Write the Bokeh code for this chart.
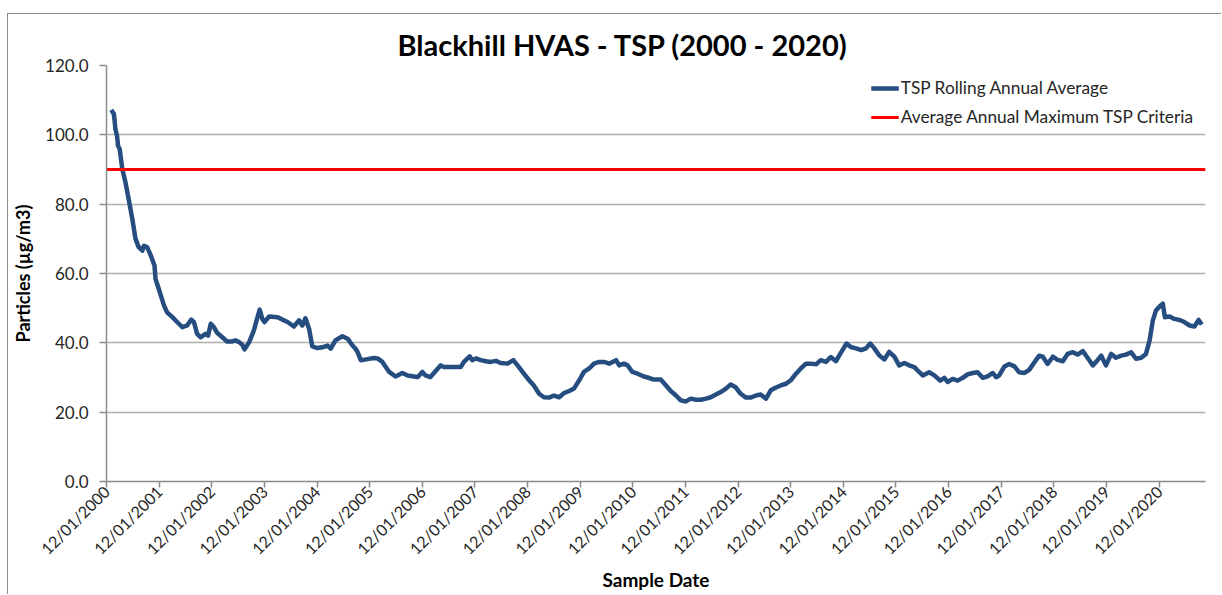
from datetime import datetime
from bokeh.plotting import figure
from bokeh.models import Range1d, FixedTicker, NumeralTickFormatter, DatetimeTickFormatter, Title
from bokeh.embed import file_html
from bokeh.resources import INLINE

# ---------------- data ----------------
sample_year = [
    2000.12, 2000.17, 2000.20, 2000.23, 2000.25, 2000.28, 2000.33, 2000.39, 2000.45, 2000.52,
    2000.58, 2000.64, 2000.71, 2000.74, 2000.80, 2000.87, 2000.94, 2000.96, 2001.02, 2001.12,
    2001.18, 2001.28, 2001.37, 2001.47, 2001.56, 2001.64, 2001.69, 2001.75, 2001.82, 2001.91,
    2001.96, 2002.01, 2002.07, 2002.13, 2002.23, 2002.32, 2002.42, 2002.48, 2002.55, 2002.61,
    2002.65, 2002.74, 2002.83, 2002.89, 2002.94, 2002.99, 2003.03, 2003.12, 2003.28, 2003.37,
    2003.47, 2003.59, 2003.69, 2003.75, 2003.81, 2003.88, 2003.94, 2004.04, 2004.13, 2004.23,
    2004.29, 2004.38, 2004.51, 2004.61, 2004.70, 2004.76, 2004.80, 2004.86, 2004.99, 2005.11,
    2005.18, 2005.27, 2005.40, 2005.52, 2005.65, 2005.75, 2005.87, 2005.94, 2006.03, 2006.09,
    2006.18, 2006.25, 2006.38, 2006.44, 2006.54, 2006.67, 2006.76, 2006.82, 2006.93, 2006.98,
    2007.05, 2007.14, 2007.24, 2007.33, 2007.43, 2007.52, 2007.65, 2007.76, 2007.84, 2007.96,
    2008.06, 2008.15, 2008.25, 2008.34, 2008.44, 2008.53, 2008.63, 2008.72, 2008.82, 2008.91,
    2009.01, 2009.10, 2009.20, 2009.29, 2009.39, 2009.48, 2009.58, 2009.71, 2009.77, 2009.86,
    2009.93, 2010.02, 2010.12, 2010.24, 2010.31, 2010.43, 2010.56, 2010.66, 2010.75, 2010.85,
    2010.94, 2011.04, 2011.13, 2011.23, 2011.32, 2011.42, 2011.51, 2011.61, 2011.70, 2011.80,
    2011.89, 2011.99, 2012.08, 2012.18, 2012.27, 2012.37, 2012.46, 2012.56, 2012.65, 2012.75,
    2012.84, 2012.94, 2013.03, 2013.13, 2013.22, 2013.32, 2013.41, 2013.51, 2013.60, 2013.70,
    2013.79, 2013.89, 2013.98, 2014.09, 2014.17, 2014.27, 2014.37, 2014.46, 2014.54, 2014.62,
    2014.71, 2014.81, 2014.90, 2015.00, 2015.09, 2015.19, 2015.28, 2015.38, 2015.47, 2015.54,
    2015.66, 2015.76, 2015.87, 2015.95, 2016.01, 2016.11, 2016.20, 2016.30, 2016.39, 2016.49,
    2016.58, 2016.68, 2016.77, 2016.87, 2016.93, 2016.99, 2017.09, 2017.18, 2017.28, 2017.37,
    2017.47, 2017.56, 2017.66, 2017.75, 2017.82, 2017.91, 2018.01, 2018.10, 2018.20, 2018.29,
    2018.39, 2018.48, 2018.58, 2018.67, 2018.77, 2018.86, 2018.93, 2019.02, 2019.12, 2019.21,
    2019.31, 2019.40, 2019.50, 2019.59, 2019.69, 2019.78, 2019.85, 2019.91, 2019.97, 2020.04,
    2020.10, 2020.14, 2020.23, 2020.32, 2020.42, 2020.51, 2020.61, 2020.70, 2020.78, 2020.84,
]
tsp_rolling_avg = [
    107.2, 106.0, 101.6, 99.7, 96.8, 95.9, 90.1, 86.3, 81.5, 75.7,
    70.0, 67.6, 66.6, 68.0, 67.6, 65.2, 62.3, 58.4, 55.6, 50.8,
    48.8, 47.4, 46.0, 44.5, 45.0, 46.7, 46.0, 42.6, 41.6, 42.6,
    42.1, 45.5, 44.5, 42.9, 41.6, 40.4, 40.4, 40.7, 40.2, 39.4,
    38.1, 40.2, 43.6, 46.9, 49.6, 46.9, 46.0, 47.6, 47.4, 46.7,
    46.0, 44.7, 46.5, 45.0, 47.1, 44.0, 39.0, 38.5, 38.7, 39.2,
    38.3, 40.7, 41.9, 41.2, 39.3, 38.3, 37.3, 35.0, 35.3, 35.6,
    35.5, 34.5, 31.6, 30.3, 31.3, 30.6, 30.3, 30.1, 31.6, 30.6,
    30.1, 31.3, 33.5, 33.0, 33.0, 33.0, 33.0, 34.5, 36.1, 35.0,
    35.5, 35.0, 34.7, 34.5, 34.8, 34.2, 34.0, 35.0, 33.5, 31.1,
    29.2, 27.7, 25.3, 24.3, 24.2, 24.8, 24.3, 25.5, 26.1, 26.8,
    29.2, 31.6, 32.6, 34.0, 34.5, 34.5, 34.0, 35.0, 33.5, 34.0,
    33.5, 31.6, 31.1, 30.3, 30.0, 29.4, 29.4, 27.7, 26.1, 24.8,
    23.4, 23.1, 23.9, 23.6, 23.6, 23.9, 24.3, 25.1, 25.8, 26.8,
    28.0, 27.1, 25.3, 24.2, 24.2, 24.8, 25.1, 23.9, 26.3, 27.1,
    27.7, 28.2, 29.2, 31.1, 32.6, 34.0, 34.0, 33.8, 35.0, 34.5,
    35.9, 34.7, 37.1, 39.8, 38.8, 38.4, 37.9, 38.4, 39.8, 38.4,
    36.4, 35.2, 37.4, 36.0, 33.5, 34.2, 33.5, 33.0, 31.6, 30.6,
    31.5, 30.6, 29.1, 29.9, 28.7, 29.6, 29.1, 29.9, 30.9, 31.3,
    31.5, 29.9, 30.3, 31.3, 30.1, 30.6, 33.2, 33.9, 33.2, 31.5,
    31.3, 32.2, 34.4, 36.3, 36.0, 33.9, 36.0, 35.1, 34.7, 36.8,
    37.3, 36.6, 37.6, 35.7, 33.5, 35.0, 36.3, 33.5, 36.8, 35.7,
    36.3, 36.6, 37.3, 35.4, 35.7, 36.8, 40.7, 46.4, 49.3, 50.5,
    51.3, 47.4, 47.6, 46.9, 46.6, 46.0, 45.0, 44.7, 46.6, 45.3,
]
criteria_value = 90.0
tick_years = list(range(2000, 2021))
tick_labels = ["12/01/%d" % y for y in tick_years]
axis_end_year = 2020.91
y_ticks = [0, 20, 40, 60, 80, 100, 120]

series_label = "TSP Rolling Annual Average"
criteria_label = "Average Annual Maximum TSP Criteria"
title_text = "Blackhill HVAS - TSP (2000 -  2020)"

# ---------------- helpers ----------------
def dec_to_dt(y):
    yr = int(y)
    start = datetime(yr, 1, 1)
    end = datetime(yr + 1, 1, 1)
    return start + (end - start) * (y - yr)

EPOCH = datetime(1970, 1, 1)
def to_ms(dt):
    return (dt - EPOCH).total_seconds() * 1000.0

x_dates = [dec_to_dt(v) for v in sample_year]
tick_dates = [datetime(y, 1, 12) for y in tick_years]
x_start = tick_dates[0]
x_end = dec_to_dt(axis_end_year)

FONT = "Lato"
BLUE = "#264d80"
RED = "#ff0000"

p = figure(
    width=1214, height=581,
    x_axis_type="datetime",
    x_range=Range1d(x_start, x_end),
    y_range=Range1d(0, 120),
    output_backend="svg",
    toolbar_location=None,
    min_border_left=98, min_border_right=17, min_border_top=51, min_border_bottom=114,
)
p.styles = {"border-left": "1px solid #8c8c8c", "border-top": "1px solid #8c8c8c",
            "margin-top": "13px", "margin-left": "7px"}

p.title = Title(text=title_text, align="left", offset=291, text_font=FONT,
                text_font_size="29px", text_font_style="bold", text_color="#000000",
                standoff=8)

p.outline_line_color = None
p.background_fill_color = "white"
p.border_fill_color = "white"

# grid
p.xgrid.grid_line_color = None
p.ygrid.grid_line_color = "#b0b0b0"
p.ygrid.grid_line_width = 1.5
p.ygrid.ticker = FixedTicker(ticks=y_ticks)

# y axis
p.yaxis.ticker = FixedTicker(ticks=y_ticks)
p.yaxis.formatter = NumeralTickFormatter(format="0.0")
p.yaxis.axis_line_color = "#8c8c8c"
p.yaxis.axis_line_width = 1.5
p.yaxis.major_tick_line_color = "#8c8c8c"
p.yaxis.major_tick_line_width = 1.5
p.yaxis.major_tick_out = 7
p.yaxis.major_tick_in = 0
p.yaxis.minor_tick_line_color = None
p.yaxis.major_label_standoff = 11
p.yaxis.major_label_text_font = FONT
p.yaxis.major_label_text_font_size = "17px"
p.yaxis.major_label_text_color = "#262626"
p.yaxis.axis_label = "Particles (µg/m3)"
p.yaxis.axis_label_text_font = FONT
p.yaxis.axis_label_text_font_size = "18px"
p.yaxis.axis_label_text_font_style = "bold"
p.yaxis.axis_label_text_color = "#000000"
p.yaxis.axis_label_standoff = 8

# x axis
fmt = "%d/%m/%Y"
p.xaxis.ticker = FixedTicker(ticks=[to_ms(d) for d in tick_dates])
p.xaxis.formatter = DatetimeTickFormatter(
    microseconds=fmt, milliseconds=fmt, seconds=fmt, minsec=fmt, minutes=fmt,
    hourmin=fmt, hours=fmt, days=fmt, months=fmt, years=fmt, context=None)
p.xaxis.major_label_orientation = 0.785398
p.xaxis.axis_line_color = "#8c8c8c"
p.xaxis.axis_line_width = 1.5
p.xaxis.major_tick_line_color = "#8c8c8c"
p.xaxis.major_tick_line_width = 1.5
p.xaxis.major_tick_out = 6
p.xaxis.major_tick_in = 0
p.xaxis.minor_tick_line_color = None
p.xaxis.major_label_standoff = 1
p.xaxis.major_label_text_font = FONT
p.xaxis.major_label_text_font_size = "16px"
p.xaxis.major_label_text_color = "#262626"
p.xaxis.axis_label = "Sample Date"
p.xaxis.axis_label_text_font = FONT
p.xaxis.axis_label_text_font_size = "19px"
p.xaxis.axis_label_text_font_style = "bold"
p.xaxis.axis_label_text_color = "#000000"
p.xaxis.axis_label_standoff = 0

# series
p.line(x_dates, tsp_rolling_avg, line_color=BLUE, line_width=4.5,
       line_join="round", legend_label=series_label)
p.line([x_start, x_end], [criteria_value, criteria_value], line_color=RED,
       line_width=3, legend_label=criteria_label)

lg = p.legend[0]
lg.location = "top_right"
lg.margin = 12
lg.padding = 4
lg.border_line_color = None
lg.background_fill_color = "white"
lg.background_fill_alpha = 1.0
lg.label_text_font = FONT
lg.label_text_font_size = "17.3px"
lg.label_text_color = "#262626"
lg.glyph_width = 28
lg.glyph_height = 16
lg.label_standoff = 2
lg.spacing = 8

open("out.html", "w").write(file_html(p, INLINE))
